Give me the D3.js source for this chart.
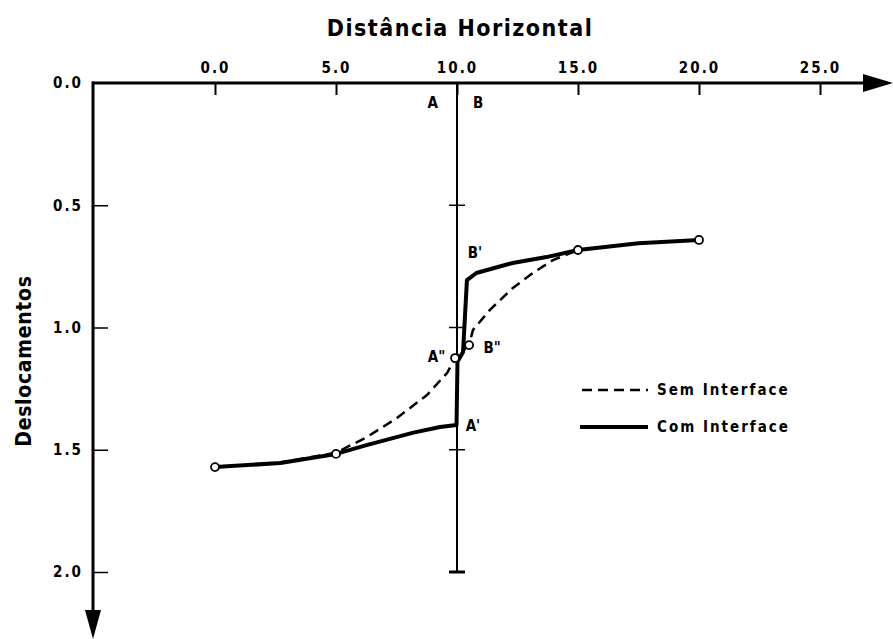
<!DOCTYPE html>
<html>
<head>
<meta charset="utf-8">
<script src="https://cdn.jsdelivr.net/npm/d3@7/dist/d3.min.js"></script>
<style>
body { margin: 0; background: #fff; }
text { font-family: "DejaVu Sans Condensed", "DejaVu Sans", sans-serif; font-weight: bold; fill: #000; }
</style>
</head>
<body>
<svg id="chart" width="893" height="639"></svg>
<script>
// tick values
var xTicks = [0, 5, 10, 15, 20, 25];
var yTicks = [0, 0.5, 1.0, 1.5, 2.0];

// Sem Interface (dashed)
var semX = [0, 2.5, 5, 6.28, 7.52, 8.76, 9.59, 9.92, 10.5, 10.66, 11.36, 12.31, 13.14, 13.97, 15, 17.5, 20];
var semY = [1.571, 1.555, 1.512, 1.448, 1.370, 1.276, 1.186, 1.125, 1.072, 1.010, 0.928, 0.838, 0.777, 0.724, 0.683, 0.655, 0.642];

// Com Interface (solid)
var comX = [0, 2.7, 5, 6.3, 8.2, 9.3, 9.98, 10.02, 10.25, 10.41, 10.8, 12.3, 13.7, 15, 17.5, 20];
var comY = [1.571, 1.554, 1.517, 1.48, 1.43, 1.407, 1.399, 1.14, 1.1, 0.806, 0.777, 0.736, 0.712, 0.683, 0.655, 0.642];

// open circle markers
var markX = [0, 5, 9.92, 10.5, 15, 20];
var markY = [1.571, 1.517, 1.125, 1.072, 0.683, 0.642];

// annotations
var noteText = ["A", "B", "B'", "A\"", "B\"", "A'"];
var noteX = [9.0, 10.87, 10.74, 9.15, 11.45, 10.66];
var noteY = [0.08, 0.08, 0.695, 1.12, 1.084, 1.40];

var interfaceX = 10;

var svg = d3.select("#chart");
svg.append("rect").attr("width", 893).attr("height", 639).attr("fill", "#fff");

var xScale = d3.scaleLinear().domain([0, 25]).range([215, 820]),
    yScale = d3.scaleLinear().domain([0, 2]).range([83, 572]);

var axisX = 93, axisY = 83;

// x axis (top), ticks pointing down, labels above
var gx = svg.append("g")
    .attr("transform", "translate(0," + axisY + ")")
    .call(d3.axisTop(xScale).tickValues(xTicks).tickFormat(d3.format(".1f"))
        .tickSizeInner(-12).tickSizeOuter(0).tickPadding(10));
gx.select(".domain").remove();
gx.selectAll(".tick line").attr("stroke", "#000").attr("stroke-width", 2);
gx.selectAll(".tick text").attr("font-size", "15px").attr("font-family", null)
    .attr("letter-spacing", "2px");

// y axis (left), ticks pointing right, labels left
var gy = svg.append("g")
    .attr("transform", "translate(" + axisX + ",0)")
    .call(d3.axisLeft(yScale).tickValues(yTicks).tickFormat(d3.format(".1f"))
        .tickSizeInner(-15).tickSizeOuter(0).tickPadding(10));
gy.select(".domain").remove();
gy.selectAll(".tick line").attr("stroke", "#000").attr("stroke-width", 1.5);
gy.selectAll(".tick").filter(function (d) { return d === 0; }).select("line").remove();
gy.selectAll(".tick text").attr("font-size", "15px").attr("font-family", null)
    .attr("letter-spacing", "2px");

// axis lines with arrows
svg.append("line")
    .attr("x1", axisX - 1).attr("y1", axisY).attr("x2", 866).attr("y2", axisY)
    .attr("stroke", "#000").attr("stroke-width", 3);
svg.append("path")
    .attr("d", "M863,74 L893,83 L863,92 Z")
    .attr("fill", "#000");
svg.append("line")
    .attr("x1", axisX).attr("y1", axisY - 1.5).attr("x2", axisX).attr("y2", 612)
    .attr("stroke", "#000").attr("stroke-width", 3);
svg.append("path")
    .attr("d", "M85,610 L101,610 L93,639 Z")
    .attr("fill", "#000");

// interface line with its own ticks
var ix = xScale(interfaceX);
svg.append("line")
    .attr("x1", ix).attr("y1", axisY).attr("x2", ix).attr("y2", yScale(2))
    .attr("stroke", "#000").attr("stroke-width", 2);
svg.selectAll(".itick")
    .data(yTicks.filter(function (d) { return d > 0; }))
    .enter().append("line")
    .attr("class", "itick")
    .attr("x1", ix - 8).attr("x2", ix + 8)
    .attr("y1", function (d) { return yScale(d); })
    .attr("y2", function (d) { return yScale(d); })
    .attr("stroke", "#000")
    .attr("stroke-width", function (d) { return d === 2 ? 3 : 1.5; });

// curves
var line = d3.line()
    .x(function (d) { return xScale(d[0]); })
    .y(function (d) { return yScale(d[1]); });

var semData = semX.map(function (x, i) { return [x, semY[i]]; });
var comData = comX.map(function (x, i) { return [x, comY[i]]; });

svg.append("path")
    .attr("d", line(semData))
    .attr("fill", "none").attr("stroke", "#000")
    .attr("stroke-width", 2.5).attr("stroke-dasharray", "10,6");

svg.append("path")
    .attr("d", line(comData))
    .attr("fill", "none").attr("stroke", "#000")
    .attr("stroke-width", 4).attr("stroke-linejoin", "round");

svg.selectAll(".mark")
    .data(markX.map(function (x, i) { return [x, markY[i]]; }))
    .enter().append("circle")
    .attr("class", "mark")
    .attr("cx", function (d) { return xScale(d[0]); })
    .attr("cy", function (d) { return yScale(d[1]); })
    .attr("r", 4)
    .attr("fill", "#fff").attr("stroke", "#000").attr("stroke-width", 1.8);

// annotations
svg.selectAll(".note")
    .data(noteText)
    .enter().append("text")
    .attr("class", "note")
    .attr("x", function (d, i) { return xScale(noteX[i]); })
    .attr("y", function (d, i) { return yScale(noteY[i]); })
    .attr("dy", "0.35em")
    .attr("text-anchor", "middle")
    .attr("font-size", "15px")
    .text(function (d) { return d; });

// titles
svg.append("text")
    .attr("x", 460).attr("y", 36)
    .attr("text-anchor", "middle")
    .attr("font-size", "23px")
    .attr("letter-spacing", "1.5px")
    .text("Distância Horizontal");

svg.append("text")
    .attr("transform", "translate(31,361) rotate(-90)")
    .attr("text-anchor", "middle")
    .attr("font-size", "21px")
    .attr("letter-spacing", "0.7px")
    .text("Deslocamentos");

// legend
var legend = svg.append("g");
legend.append("line")
    .attr("x1", 582).attr("x2", 648).attr("y1", 390).attr("y2", 390)
    .attr("stroke", "#000").attr("stroke-width", 2.5).attr("stroke-dasharray", "10,6");
legend.append("text")
    .attr("x", 657).attr("y", 390).attr("dy", "0.35em")
    .attr("font-size", "15px")
    .attr("letter-spacing", "2px")
    .text("Sem Interface");
legend.append("line")
    .attr("x1", 580).attr("x2", 648).attr("y1", 427).attr("y2", 427)
    .attr("stroke", "#000").attr("stroke-width", 4);
legend.append("text")
    .attr("x", 657).attr("y", 427).attr("dy", "0.35em")
    .attr("font-size", "15px")
    .attr("letter-spacing", "2px")
    .text("Com Interface");
</script>
</body>
</html>
